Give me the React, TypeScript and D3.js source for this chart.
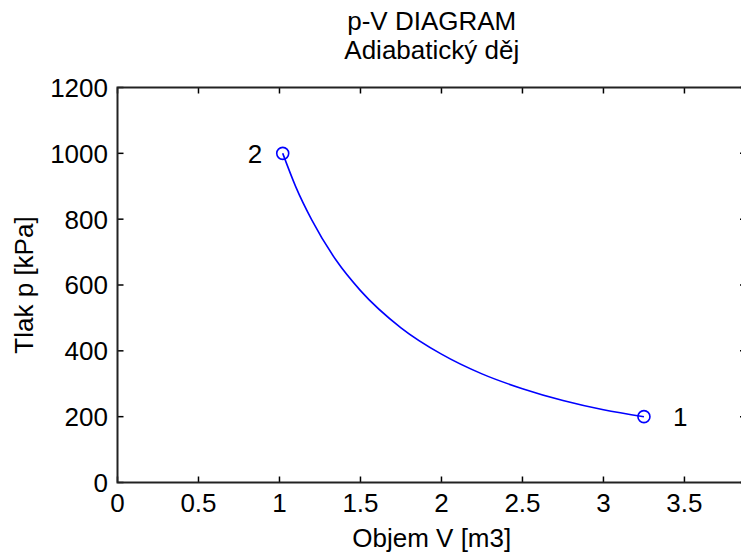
import React from "react";
import * as d3 from "d3";

const titleLines = ["p-V DIAGRAM", "Adiabatický děj"];
const xLabel = "Objem V [m3]";
const yLabel = "Tlak p [kPa]";
const xTicks = [0, 0.5, 1, 1.5, 2, 2.5, 3, 3.5];
const yTicks = [0, 200, 400, 600, 800, 1000, 1200];
// curve: volume [m3] and pressure [kPa]
const volume = [1.02, 1.1, 1.2, 1.35, 1.5, 1.75, 2.0, 2.25, 2.5, 2.75, 3.0, 3.25];
const pressure = [1000, 899, 797, 675, 583, 470, 390, 330, 285, 249, 221, 200];
const stateNames = ["1", "2"];
const stateV = [3.25, 1.02];
const stateP = [200, 1000];

const W = 741;
const H = 552;
const L = 117.5, R = 746, T = 87.5, B = 482.5;
const FONT = "'Liberation Sans', Arial, Helvetica, sans-serif";
const FS = 26;

export default function App() {
  const x = d3.scaleLinear().domain([0, 3.88]).range([L, R]);
  const y = d3.scaleLinear().domain([0, 1200]).range([B, T]);
  const pts = volume.map((v, i) => [v, pressure[i]] as [number, number]);
  const line = d3
    .line<[number, number]>()
    .x((d) => x(d[0]))
    .y((d) => y(d[1]))
    .curve(d3.curveMonotoneX);
  const tk = 6;
  const blue = "#0000ff";
  return (
    <svg
      width={W}
      height={H}
      style={{ position: "absolute", left: 0, top: 0, display: "block", background: "#fff" }}
      fontFamily={FONT}
    >
      <rect x={0} y={0} width={W} height={H} fill="#fff" />
      {titleLines.map((t, i) => (
        <text key={i} x={(L + R) / 2} y={30 + i * 29} textAnchor="middle" fontSize={FS} fill="#000">
          {t}
        </text>
      ))}
      {/* ticks */}
      {xTicks.map((v) => (
        <g key={"x" + v}>
          <line x1={x(v)} x2={x(v)} y1={B} y2={B - tk} stroke="#000" strokeWidth={1.5} />
          <line x1={x(v)} x2={x(v)} y1={T} y2={T + tk} stroke="#000" strokeWidth={1.5} />
          <text x={x(v)} y={512} textAnchor="middle" fontSize={FS} fill="#000">
            {String(v)}
          </text>
        </g>
      ))}
      {yTicks.map((v) => (
        <g key={"y" + v}>
          <line x1={L} x2={L + tk} y1={y(v)} y2={y(v)} stroke="#000" strokeWidth={1.5} />
          <line x1={R} x2={R - tk} y1={y(v)} y2={y(v)} stroke="#000" strokeWidth={1.5} />
          <text x={108} y={y(v)} dy="0.36em" textAnchor="end" fontSize={FS} fill="#000">
            {String(v)}
          </text>
        </g>
      ))}
      <rect x={L} y={T} width={R - L} height={B - T} fill="none" stroke="#222" strokeWidth={2} />
      <path d={line(pts) || ""} fill="none" stroke={blue} strokeWidth={1.6} />
      {stateNames.map((n, i) => (
        <g key={n}>
          <circle cx={x(stateV[i])} cy={y(stateP[i])} r={6} fill="none" stroke={blue} strokeWidth={1.6} />
          <text
            x={x(stateV[i]) + (i === 0 ? 29 : -35)}
            y={y(stateP[i])}
            dy="0.36em"
            fontSize={FS}
            fill="#000"
          >
            {n}
          </text>
        </g>
      ))}
      <text x={(L + R) / 2} y={547} textAnchor="middle" fontSize={FS} fill="#000">
        {xLabel}
      </text>
      <text
        transform={`translate(33, ${(T + B) / 2}) rotate(-90)`}
        textAnchor="middle"
        fontSize={FS}
        fill="#000"
      >
        {yLabel}
      </text>
    </svg>
  );
}
